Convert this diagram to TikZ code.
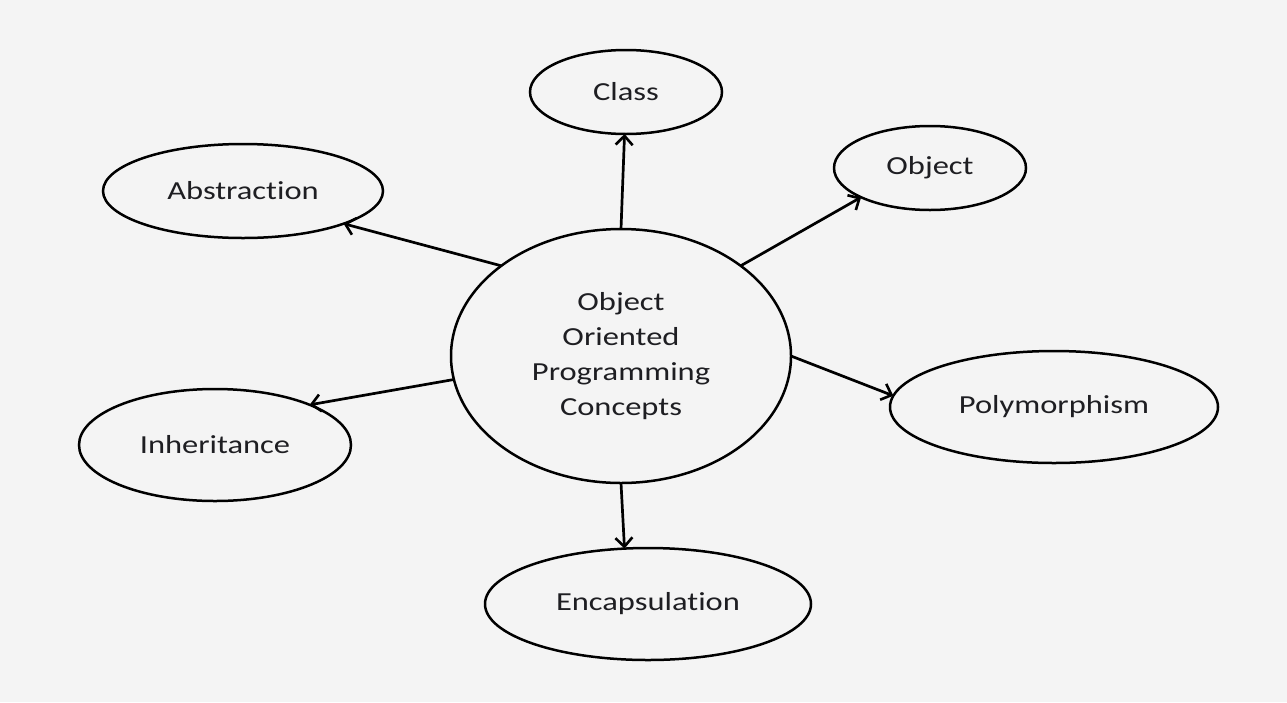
\documentclass[tikz,border=0pt]{standalone}
\usepackage{fontspec}
\setmainfont{Carlito}[FakeStretch=1.25,Ligatures=NoCommon]
\usetikzlibrary{shapes.geometric,arrows.meta}
\definecolor{bg}{HTML}{F4F4F4}
\definecolor{ink}{HTML}{1E1E22}
\tikzset{
  bubble/.style={ellipse, draw=black, line width=2.5pt, inner sep=0pt, outer sep=0pt,
    text=ink, font=\fontsize{26}{35}\selectfont, align=center},
  link/.style={line width=2.7pt, draw=black, -{Straight Barb[length=9pt,width=17pt,line width=2.6pt]}}
}
\begin{document}
\begin{tikzpicture}[x=1pt,y=-1pt]
\path[fill=bg,use as bounding box] (0,0) rectangle (1287,702);
\node[bubble, minimum width=340pt, minimum height=254pt] (c) at (621,356)
  {Object\\Oriented\\Programming\\Concepts};
\node[bubble, minimum width=192pt, minimum height=84pt] (class) at (626,92) {Class};
\node[bubble, minimum width=192pt, minimum height=84pt] (object) at (930,168) {Object};
\node[bubble, minimum width=280pt, minimum height=94pt] (abs) at (243,191) {Abstraction};
\node[bubble, minimum width=328pt, minimum height=112pt] (poly) at (1054,407) {Polymorphism};
\node[bubble, minimum width=272pt, minimum height=112pt] (inh) at (215,445) {Inheritance};
\node[bubble, minimum width=326pt, minimum height=112pt] (enc) at (648,604) {Encapsulation};
\draw[link] (c.90) -- (class.268);
\draw[link] (c.37) -- (object.203);
\draw[link] (c.143) -- (abs.342);
\draw[link] (c.0) -- (poly.176);
\draw[link] (c.188) -- (inh.23);
\draw[link] (c.270) -- (enc.113);
\end{tikzpicture}
\end{document}
